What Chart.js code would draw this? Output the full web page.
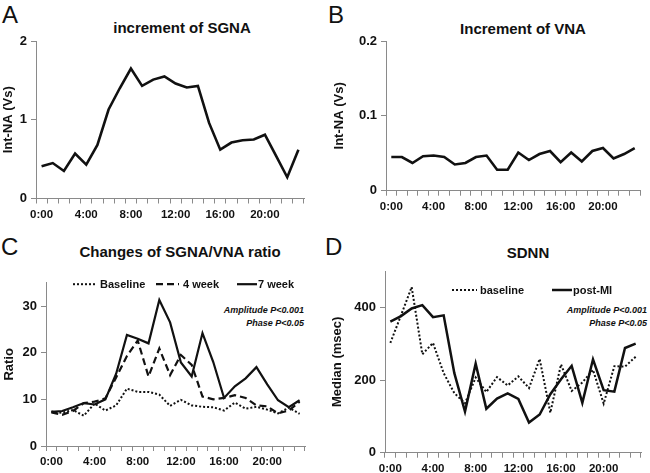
<!DOCTYPE html>
<html>
<head>
<meta charset="utf-8">
<script src="https://cdn.jsdelivr.net/npm/chart.js@4.4.1/dist/chart.umd.min.js"></script>
<style>
  body { margin: 0; background: #fff; }
  #fig { position: relative; width: 650px; height: 473px; overflow: hidden; font-family: "Liberation Sans", Arial, sans-serif; color: #111; }
  #fig canvas { position: absolute; }
  .letter { position: absolute; font-size: 24px; line-height: 24px; }
  .ttl { position: absolute; width: 240px; text-align: center; font-size: 15px; font-weight: bold; line-height: 17px; }
  .note { position: absolute; text-align: right; font-size: 9px; font-weight: bold; font-style: italic; line-height: 13px; white-space: nowrap; }
</style>
</head>
<body>
<div id="fig">
  <div class="letter" style="left:2px;top:3px">A</div>
  <div class="letter" style="left:328px;top:3px">B</div>
  <div class="letter" style="left:1px;top:235px">C</div>
  <div class="letter" style="left:325px;top:235px">D</div>

  <div class="ttl" style="left:62px;top:19px">increment of SGNA</div>
  <div class="ttl" style="left:403px;top:19.5px">Increment of VNA</div>
  <div class="ttl" style="left:60px;top:243px">Changes of SGNA/VNA ratio</div>
  <div class="ttl" style="left:408px;top:243.5px">SDNN</div>

  <div class="note" style="right:346px;top:304px">Amplitude P&lt;0.001<br>Phase P&lt;0.05</div>
  <div class="note" style="right:3px;top:304px">Amplitude P&lt;0.001<br>Phase P&lt;0.05</div>

  <canvas id="chartA" width="325" height="230" style="left:0;top:0"></canvas>
  <canvas id="chartB" width="325" height="230" style="left:325px;top:0"></canvas>
  <canvas id="chartC" width="325" height="243" style="left:0;top:230px"></canvas>
  <canvas id="chartD" width="325" height="243" style="left:325px;top:230px"></canvas>
</div>

<script>
// 時刻ラベル
const hours = ['0:00', '1:00', '2:00', '3:00', '4:00', '5:00', '6:00', '7:00', '8:00', '9:00', '10:00', '11:00',
  '12:00', '13:00', '14:00', '15:00', '16:00', '17:00', '18:00', '19:00', '20:00', '21:00', '22:00', '23:00'];

// A: increment of SGNA
const sgna = [0.41, 0.45, 0.35, 0.57, 0.43, 0.68, 1.13, 1.40, 1.65, 1.43, 1.51, 1.55,
  1.46, 1.41, 1.43, 0.96, 0.62, 0.71, 0.74, 0.75, 0.81, 0.54, 0.27, 0.62];

// B: increment of VNA
const vna = [0.045, 0.045, 0.037, 0.046, 0.047, 0.045, 0.035, 0.037, 0.045, 0.047, 0.028, 0.028,
  0.051, 0.041, 0.049, 0.053, 0.038, 0.051, 0.039, 0.053, 0.057, 0.043, 0.049, 0.057];

// C: SGNA/VNA ratio
const ratioBaseline = [7.4, 7.1, 7.7, 6.5, 9.1, 7.6, 8.7, 12.3, 11.6, 11.6, 11.0, 8.6,
  9.9, 8.7, 8.4, 8.3, 7.6, 9.3, 8.0, 8.4, 7.8, 7.0, 8.2, 6.9];
const ratio4wk = [7.2, 6.7, 7.5, 9.2, 9.5, 10.2, 14.7, 19.3, 22.6, 14.9, 20.9, 15.2,
  19.5, 17.4, 10.6, 10.0, 10.3, 10.9, 10.3, 8.7, 8.5, 7.0, 7.6, 9.5];
const ratio7wk = [7.3, 7.5, 8.3, 9.2, 8.9, 10.0, 15.5, 23.8, 23.0, 22.0, 31.3, 26.5,
  17.9, 14.9, 24.2, 18.0, 10.3, 12.8, 14.5, 16.9, 13.2, 9.8, 8.3, 9.8];

// D: SDNN (msec)
const sdnnBaseline = [302, 378, 456, 271, 302, 219, 164, 136, 207, 167, 208, 185,
  210, 178, 258, 110, 243, 170, 193, 228, 135, 238, 237, 264];
const sdnnPostMI = [361, 376, 397, 406, 373, 378, 219, 113, 245, 121, 149, 163,
  148, 83, 105, 161, 202, 239, 137, 257, 172, 168, 288, 300];

Chart.defaults.font.family = '"Liberation Sans", Arial, sans-serif';
Chart.defaults.color = '#111';

const AXIS_GREY = '#8a8a8a';

// 凡例（線サンプル＋ラベル）を描くプラグイン
const lineLegend = {
  id: 'lineLegend',
  afterDraw(chart, args, opts) {
    if (!opts.items) return;
    const { ctx, chartArea } = chart;
    ctx.save();
    ctx.font = 'bold 11px "Liberation Sans", Arial, sans-serif';
    ctx.textBaseline = 'middle';
    chart.data.datasets.forEach((ds, i) => {
      const it = opts.items[i];
      const x = chartArea.left + it.x;
      const y = chartArea.top + opts.y;
      ctx.beginPath();
      ctx.setLineDash(ds.borderDash || []);
      ctx.lineWidth = ds.borderWidth;
      ctx.strokeStyle = ds.borderColor;
      ctx.moveTo(x, y);
      ctx.lineTo(x + it.w, y);
      ctx.stroke();
      ctx.setLineDash([]);
      ctx.fillStyle = '#111';
      ctx.fillText(ds.label, x + it.w + it.gap, y + 0.5);
    });
    ctx.restore();
  }
};

function series(label, data, dash, width) {
  return {
    label, data,
    borderColor: '#111',
    borderWidth: width,
    borderDash: dash,
    borderCapStyle: 'butt',
    pointRadius: 0,
    tension: 0,
    fill: false
  };
}

function makeChart(id, cfg) {
  const ctx = document.getElementById(id).getContext('2d');
  return new Chart(ctx, {
    type: 'line',
    data: { labels: hours, datasets: cfg.datasets },
    plugins: [lineLegend],
    options: {
      responsive: false,
      animation: false,
      layout: { padding: cfg.padding },
      plugins: {
        legend: { display: false },
        tooltip: { enabled: false },
        lineLegend: cfg.legend || {}
      },
      scales: {
        x: {
          offset: true,
          grid: { offset: true, drawOnChartArea: false, color: AXIS_GREY, tickLength: 5 },
          border: { color: AXIS_GREY },
          ticks: {
            autoSkip: false, maxRotation: 0, minRotation: 0, padding: 4,
            font: { size: 11.5, weight: 'bold' },
            callback: (v, i) => (i % 4 === 0 ? hours[i] : '')
          },
          afterFit: s => { s.height = 20; }
        },
        y: {
          min: 0,
          max: cfg.yMax,
          grid: { drawOnChartArea: false, color: AXIS_GREY, tickLength: 5 },
          border: { color: AXIS_GREY },
          ticks: { stepSize: cfg.yStep, padding: 4, font: { size: 13, weight: 'bold' } },
          afterBuildTicks: s => {
            s.ticks = s.ticks.filter(t => Math.abs(t.value / cfg.yStep - Math.round(t.value / cfg.yStep)) < 1e-6);
          },
          title: {
            display: true, text: cfg.yTitle,
            font: { size: 13, weight: 'bold' },
            padding: { top: cfg.titlePad, bottom: 0 }
          },
          afterFit: s => { s.width = cfg.yWidth; }
        }
      }
    }
  });
}

makeChart('chartA', {
  datasets: [series('SGNA', sgna, [], 2.6)],
  yMax: 2, yStep: 1, yTitle: 'Int-NA (Vs)', titlePad: 0.5, yWidth: 36,
  padding: { left: 0, top: 41, right: 21, bottom: 11.5 }
});

makeChart('chartB', {
  datasets: [series('VNA', vna, [], 2.6)],
  yMax: 0.2, yStep: 0.1, yTitle: 'Int-NA (Vs)', titlePad: 7, yWidth: 61,
  padding: { left: 0, top: 41, right: 10, bottom: 19.3 }
});

makeChart('chartC', {
  datasets: [
    series('Baseline', ratioBaseline, [2, 2], 2),
    series('4 week', ratio4wk, [7, 4], 2.2),
    series('7 week', ratio7wk, [], 2.2)
  ],
  yMax: 35, yStep: 10, yTitle: 'Ratio', titlePad: 2, yWidth: 46,
  padding: { left: 0, top: 52.7, right: 20, bottom: 7 },
  legend: { y: 1.5, items: [{ x: 27, w: 24, gap: 3 }, { x: 110, w: 23, gap: 4 }, { x: 191, w: 20, gap: 1 }] }
});

makeChart('chartD', {
  datasets: [
    series('baseline', sdnnBaseline, [2, 2], 2),
    series('post-MI', sdnnPostMI, [], 2.5)
  ],
  yMax: 500, yStep: 200, yTitle: 'Median (msec)', titlePad: 5, yWidth: 60,
  padding: { left: 0, top: 41, right: 9, bottom: 0.3 },
  legend: { y: 19, items: [{ x: 67, w: 25, gap: 3 }, { x: 167, w: 20, gap: 1 }] }
});
</script>
</body>
</html>
